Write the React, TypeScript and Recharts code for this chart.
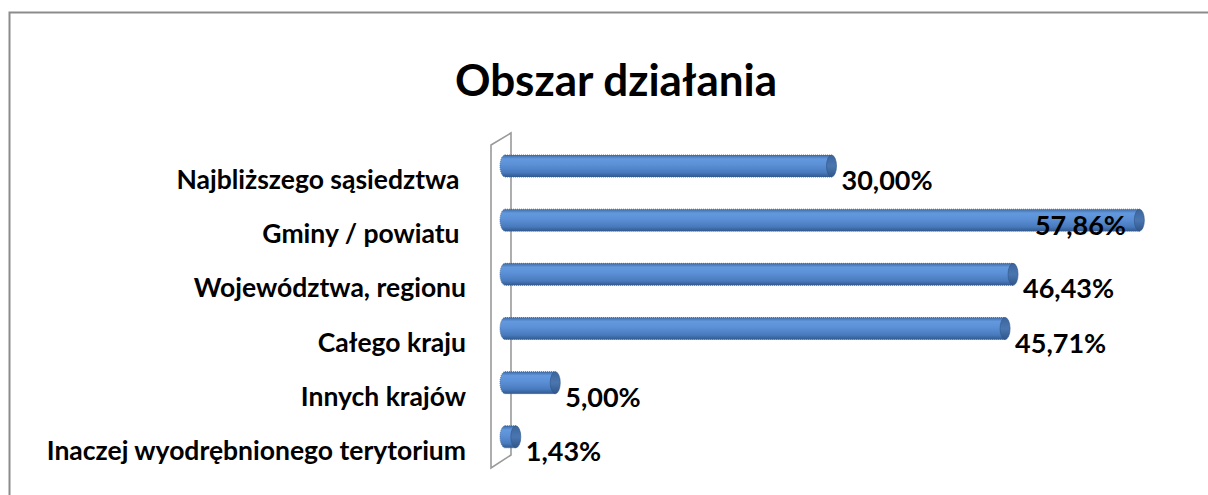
import React from 'react';
import { BarChart, Bar, XAxis, YAxis, LabelList, Customized } from 'recharts';

const categories = [
  'Najbliższego sąsiedztwa ',
  'Gminy / powiatu ',
  'Województwa, regionu',
  'Całego kraju',
  'Innych krajów',
  'Inaczej wyodrębnionego terytorium',
];
const values = [30.0, 57.86, 46.43, 45.71, 5.0, 1.43];
const title = 'Obszar działania';

const data = categories.map((c, i) => ({ name: c, value: values[i] }));

const FONT = 'Lato, "Open Sans", sans-serif';
const LABEL_LIMIT = 1126;

const fmt = (v: number) => v.toFixed(2).replace('.', ',') + '%';

const CylinderBar = (props: any) => {
  const { x, y, width, height } = props;
  if (width == null || height == null) return null;
  const ry = height / 2;
  const rx = 5;
  const cy = y + ry;
  const xe = x + width;
  const body = `M ${x + rx} ${y} L ${xe} ${y} L ${xe} ${y + height} L ${x + rx} ${y + height} A ${rx} ${ry} 0 0 1 ${x + rx} ${y} Z`;
  return (
    <g>
      <path d={body} fill="url(#cylGrad)" stroke="#355e94" strokeWidth={0.8} strokeDasharray="1 1" />
      <ellipse cx={xe} cy={cy} rx={rx} ry={ry} fill="url(#capGrad)" stroke="#2f5687" strokeWidth={0.6} />
    </g>
  );
};

const ValueLabel = (props: any) => {
  const { x, y, width, height, value } = props;
  const cy = y + height / 2;
  let tx = x + width + 10;
  let ty = cy + 24;
  let anchor: 'start' | 'end' = 'start';
  if (tx + 95 > LABEL_LIMIT + 5) {
    tx = LABEL_LIMIT;
    ty = cy + 15;
    anchor = 'end';
  }
  return (
    <text x={tx} y={ty} textAnchor={anchor} fontFamily={FONT} fontWeight={700} fontSize={27} fill="#000">
      {fmt(value)}
    </text>
  );
};

const CatTick = (props: any) => {
  const { x, y, payload } = props;
  return (
    <text
      x={x}
      y={y + 23}
      textAnchor="end"
      fontFamily={FONT}
      fontWeight={700}
      fontSize={26.5}
      fill="#000"
      style={{ whiteSpace: 'pre' }}
    >
      {payload.value}
    </text>
  );
};

const Decor = (props: any) => {
  const off = props.offset || { left: 500, top: 139, height: 325, width: 669 };
  const l = off.left;
  const t = off.top;
  const b = off.top + off.height;
  return (
    <g>
      <defs>
        <linearGradient id="cylGrad" x1="0" y1="0" x2="0" y2="1">
          <stop offset="0%" stopColor="#3f6aa3" />
          <stop offset="18%" stopColor="#6299de" />
          <stop offset="45%" stopColor="#5c90d6" />
          <stop offset="80%" stopColor="#487abd" />
          <stop offset="100%" stopColor="#31598e" />
        </linearGradient>
        <linearGradient id="capGrad" x1="0" y1="0" x2="0" y2="1">
          <stop offset="0%" stopColor="#3d659c" />
          <stop offset="50%" stopColor="#4a76b0" />
          <stop offset="100%" stopColor="#30568a" />
        </linearGradient>
      </defs>
      <rect x={9.5} y={12.5} width={1400} height={700} fill="none" stroke="#8c8c8c" strokeWidth={2} />
      <text x={616} y={96} textAnchor="middle" fontFamily={FONT} fontWeight={700} fontSize={44} fill="#000">
        {title}
      </text>
      <path
        d={`M ${l - 9} ${t + 6} L ${l + 11} ${t - 6} L ${l + 11} ${b - 9} L ${l - 9} ${b + 4} Z`}
        fill="none"
        stroke="#9a9a9a"
        strokeWidth={1.6}
      />
    </g>
  );
};

export default function App() {
  return (
    <div style={{ position: 'absolute', left: 0, top: 0, width: 1208, height: 495, background: '#fff' }}>
      <BarChart
        width={1208}
        height={495}
        data={data}
        layout="vertical"
        margin={{ top: 139, right: 45, bottom: 31, left: 0 }}
        barCategoryGap={16}
      >
        <Customized component={Decor} />
        <XAxis type="number" domain={[0, 60]} hide />
        <YAxis
          type="category"
          dataKey="name"
          width={500}
          axisLine={false}
          tickLine={false}
          tickMargin={28}
          interval={0}
          tick={<CatTick />}
        />
        <Bar dataKey="value" barSize={22} isAnimationActive={false} shape={<CylinderBar />}>
          <LabelList dataKey="value" content={<ValueLabel />} />
        </Bar>
      </BarChart>
    </div>
  );
}
